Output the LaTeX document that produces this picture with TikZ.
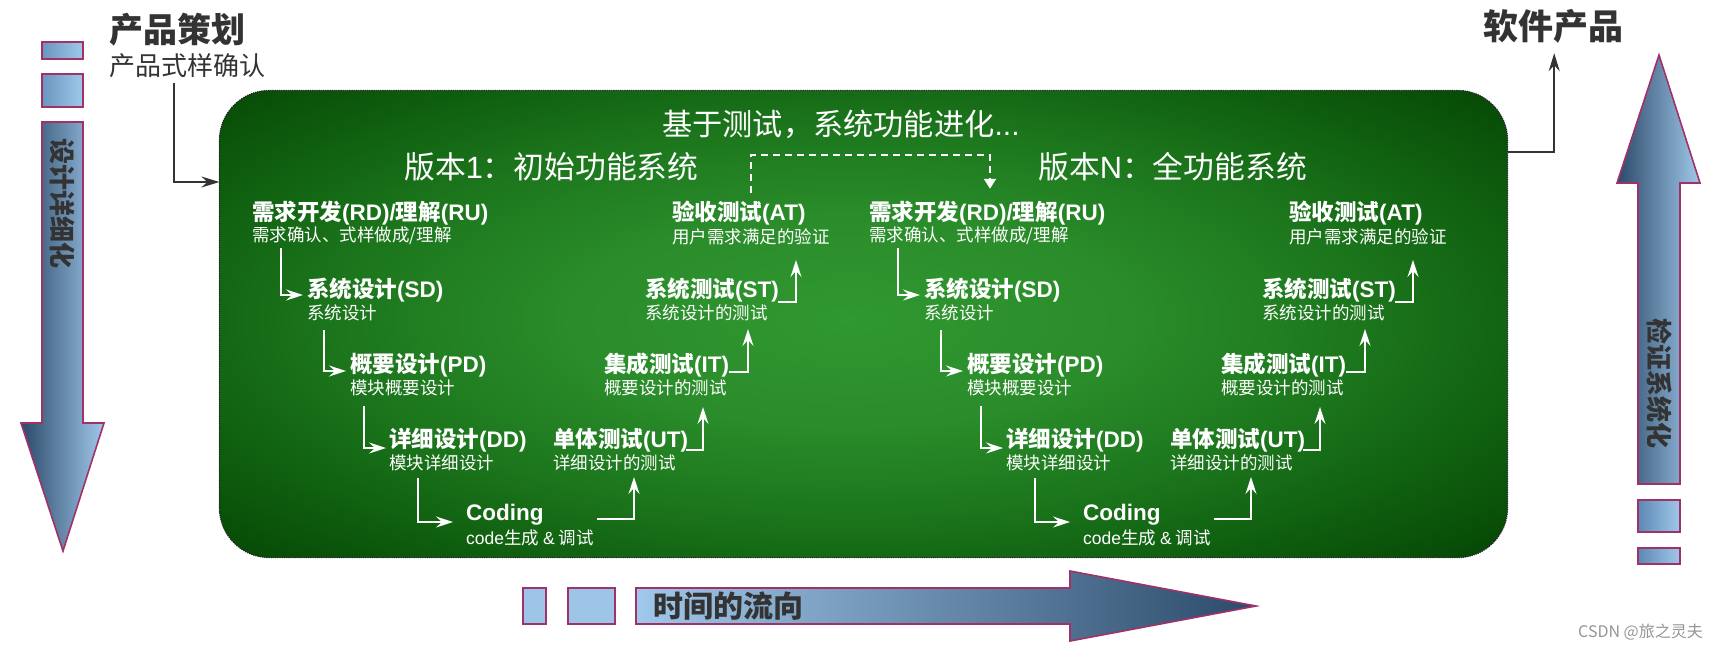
\documentclass[tikz,border=0pt]{standalone}
\usepackage{fontspec}
\setmainfont{Noto Sans CJK SC}
\newfontfamily\latfam{Liberation Sans}
\newcommand\LA[1]{{\latfam #1}}
\usetikzlibrary{arrows.meta}
\definecolor{gA}{RGB}{48,152,48}
\definecolor{gB}{RGB}{42,140,42}
\definecolor{gC}{RGB}{28,118,28}
\definecolor{gD}{RGB}{15,95,15}
\definecolor{gE}{RGB}{8,78,8}
\definecolor{gF}{RGB}{4,64,4}
\definecolor{gG}{RGB}{2,50,2}
\definecolor{ol}{RGB}{160,50,105}
\definecolor{bdk}{RGB}{44,74,106}
\definecolor{blt}{RGB}{160,200,234}
\definecolor{bmd}{RGB}{92,136,180}
\definecolor{txt}{RGB}{51,51,51}
\definecolor{wm}{RGB}{150,150,150}
\pgfdeclareradialshading{boardshade}{\pgfpoint{0bp}{0bp}}{color(0bp)=(gA); color(10bp)=(gB); color(18.3bp)=(gC); color(25bp)=(gD); color(30bp)=(gE); color(33.3bp)=(gF); color(40bp)=(gG); color(50bp)=(gG)}
\tikzset{
  ttl/.style={anchor=west, inner sep=0pt, text=white, font=\fontsize{22.5}{26}\selectfont\bfseries},
  sub/.style={anchor=west, inner sep=0pt, text=white, font=\fontsize{17.5}{20}\selectfont},
  big/.style={anchor=west, inner sep=0pt, text=white, font=\fontsize{30.8}{34}\selectfont},
  warr/.style={draw=white, line width=1.6pt, -{Stealth[length=17pt,width=11pt,inset=6pt]}},
  garr/.style={draw=txt, line width=1.8pt, -{Stealth[length=18pt,width=11pt,inset=6pt]}},
  dashline/.style={draw=white, line width=1.8pt, dash pattern=on 7pt off 5pt, -{Triangle[length=10pt,width=12pt]}},
  blockarrow/.style={draw=ol, line width=1.6pt},
  board/.style={draw=black!85, densely dotted, line width=1.2pt, rounded corners=50pt, minimum width=1287pt, minimum height=466pt, fill=gG, inner sep=0pt},
  boardedge/.style={draw=black!85, densely dotted, line width=1.2pt, rounded corners=50pt},
  outlbl/.style={inner sep=0pt, text=txt, font=\fontsize{26}{30}\selectfont\bfseries, rotate=-90}
}
\newcommand\vmod[2]{%
\begin{scope}[xshift=#2pt]
\node[ttl] (rd#1t) at (252,213) {需求开发\LA{(RD)/}理解\LA{(RU)}};
\node[sub] (rd#1s) at (252,236) {需求确认、式样做成/理解};
\node[ttl] (sd#1t) at (307,290) {系统设计\LA{(SD)}};
\node[sub] (sd#1s) at (307,313) {系统设计};
\node[ttl] (pd#1t) at (350,365) {概要设计\LA{(PD)}};
\node[sub] (pd#1s) at (350,388) {模块概要设计};
\node[ttl] (dd#1t) at (389,440) {详细设计\LA{(DD)}};
\node[sub] (dd#1s) at (389,463) {模块详细设计};
\node[ttl] (cd#1t) at (466,515) {\LA{Coding}};
\node[sub] (cd#1s) at (466,538) {\LA{code}生成 \LA{\&} 调试};
\node[ttl] (ut#1t) at (553,440) {单体测试\LA{(UT)}};
\node[sub] (ut#1s) at (553,463) {详细设计的测试};
\node[ttl] (it#1t) at (604,365) {集成测试\LA{(IT)}};
\node[sub] (it#1s) at (604,388) {概要设计的测试};
\node[ttl] (st#1t) at (645,290) {系统测试\LA{(ST)}};
\node[sub] (st#1s) at (645,313) {系统设计的测试};
\node[ttl] (at#1t) at (672,213) {验收测试\LA{(AT)}};
\node[sub] (at#1s) at (672,237) {用户需求满足的验证};
\draw[warr] ([xshift=29pt,yshift=-12pt]rd#1s.west) |- ([xshift=-4pt,yshift=-5pt]sd#1t.west);
\draw[warr] ([xshift=17pt,yshift=-17pt]sd#1s.west) |- ([xshift=-4pt,yshift=-6pt]pd#1t.west);
\draw[warr] ([xshift=14pt,yshift=-18pt]pd#1s.west) |- ([xshift=-3pt,yshift=-8pt]dd#1t.west);
\draw[warr] ([xshift=29pt,yshift=-15pt]dd#1s.west) |- ([xshift=-13pt,yshift=-7pt]cd#1t.west);
\draw[warr] ([xshift=131pt,yshift=-4pt]cd#1t.west) -| ([xshift=81pt,yshift=-14pt]ut#1s.west);
\draw[warr] ([xshift=133pt,yshift=-10pt]ut#1t.west) -| ([xshift=99pt,yshift=-19pt]it#1s.west);
\draw[warr] ([xshift=125pt,yshift=-7pt]it#1t.west) -| ([xshift=103pt,yshift=-16pt]st#1s.west);
\draw[warr] ([xshift=133pt,yshift=-12pt]st#1t.west) -| ([xshift=124pt,yshift=-23pt]at#1s.west);
\end{scope}}
\begin{document}
\begin{tikzpicture}[x=1pt,y=-1pt]
\useasboundingbox (0,0) rectangle (1720,649);
\fill[white] (0,0) rectangle (1720,649);
% board
\node[board] (board) at (863.5,324) {};
\begin{scope}
\clip[rounded corners=50pt] (board.south west) rectangle (board.north east);
\begin{scope}[transform canvas={yscale=0.38}]
\shade[shading=boardshade] (150,{320/0.38-700}) rectangle (1550,{320/0.38+700});
\end{scope}
\end{scope}
\draw[boardedge] (board.south west) rectangle (board.north east);
% left block arrow
\draw[blockarrow, left color=bmd!80!blt, right color=blt] (42,42) rectangle (83,59);
\draw[blockarrow, left color=bmd!80!blt, right color=blt] (42,74) rectangle (83,107);
\draw[blockarrow, left color=bdk, right color=blt] (42,122) -- (83,122) -- (83,423) -- (104,423) -- (63,551) -- (21,423) -- (42,423) -- cycle;
\node[outlbl] (lbl1) at (62,203) {设计详细化};
% right block arrow
\draw[blockarrow, left color=bdk, right color=blt] (1659,55) -- (1700,183) -- (1680,183) -- (1680,484) -- (1638,484) -- (1638,183) -- (1617,183) -- cycle;
\draw[blockarrow, left color=bmd, right color=blt] (1638,500) rectangle (1680,532);
\draw[blockarrow, left color=bmd, right color=blt] (1638,548) rectangle (1680,564);
\node[outlbl] (lbl2) at (1659,383) {检证系统化};
% bottom block arrow
\draw[blockarrow, fill=blt!95!bmd] (523,588) rectangle (546,624);
\draw[blockarrow, fill=blt!95!bmd] (568,588) rectangle (615,624);
\draw[blockarrow, left color=blt, right color=bdk] (636,588) -- (1070,588) -- (1070,571) -- (1256,606) -- (1070,641) -- (1070,624) -- (636,624) -- cycle;
\node[anchor=west, inner sep=0pt, text=txt, font=\fontsize{30}{34}\selectfont\bfseries] (time) at (653,606) {时间的流向};
% top texts
\node[anchor=west, inner sep=0pt, text=txt, font=\fontsize{34}{38}\selectfont\bfseries] (plan) at (109,30) {产品策划};
\node[anchor=west, inner sep=0pt, text=txt, font=\fontsize{26}{30}\selectfont] (plans) at (109,66) {产品式样确认};
\node[anchor=west, inner sep=0pt, text=txt, font=\fontsize{35}{39}\selectfont\bfseries] (prod) at (1483,26) {软件产品};
\draw[garr] ([xshift=65pt,yshift=-5pt]plans.south west) |- ([yshift=142pt]board.west);
\draw[garr] ([yshift=172pt]board.east) -| ([xshift=1pt,yshift=-10pt]prod.south);
% board texts
\node[anchor=center, inner sep=0pt, text=white, font=\fontsize{30.2}{34}\selectfont] (evo) at (841,124) {基于测试，系统功能进化\LA{...}};
\node[big] (v1) at (404,167) {版本\LA{1}：初始功能系统};
\node[big] (vn) at (1038,167) {版本\LA{N}：全功能系统};
\vmod{a}{0}
\vmod{b}{617}
\coordinate (dtop) at (990,155);
\draw[dashline] (751,193) |- (dtop) -- ([yshift=12pt]dtop |- rdbt.north);
\node[anchor=east, inner sep=0pt, text=wm, font=\fontsize{16}{18}\selectfont] (wmk) at (1703,632) {CSDN @旅之灵夫};
\end{tikzpicture}
\end{document}
